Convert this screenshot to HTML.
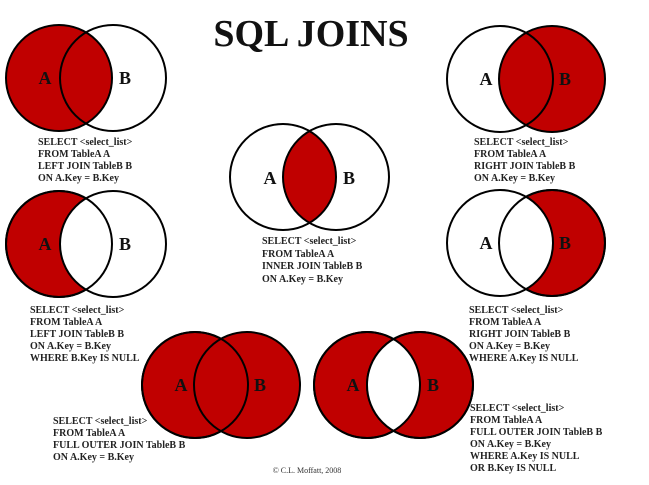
<!DOCTYPE html>
<html><head><meta charset="utf-8"><style>
html,body{margin:0;padding:0;background:#fff;}
svg{display:block;}
.t{font-family:"Liberation Serif",serif;font-weight:bold;font-size:10px;fill:#222;}
.l{font-family:"Liberation Serif",serif;font-weight:bold;font-size:18px;fill:#111;}
</style></head><body>
<svg width="649" height="485" viewBox="0 0 649 485" xmlns="http://www.w3.org/2000/svg">
<defs>
<clipPath id="c1"><circle cx="59" cy="78" r="53"/></clipPath>
<clipPath id="c2"><circle cx="283" cy="177" r="53"/></clipPath>
<clipPath id="c3"><circle cx="367" cy="385" r="53"/></clipPath>
</defs>
<rect width="649" height="485" fill="#fff"/>
<text x="311" y="46" text-anchor="middle" style="font-family:'Liberation Serif',serif;font-weight:bold;font-size:38px;fill:#111">SQL JOINS</text>

<g stroke="#000" stroke-width="2">
<!-- top-left: LEFT JOIN -->
<circle cx="59" cy="78" r="53" fill="#c00000"/>
<circle cx="113" cy="78" r="53" fill="none"/>
<!-- top-right: RIGHT JOIN -->
<circle cx="552" cy="79" r="53" fill="#c00000"/>
<circle cx="500" cy="79" r="53" fill="none"/>
<!-- center: INNER -->
<circle cx="336" cy="177" r="53" fill="#c00000" stroke="none" clip-path="url(#c2)"/>
<circle cx="283" cy="177" r="53" fill="none"/>
<circle cx="336" cy="177" r="53" fill="none"/>
<!-- mid-left: left only -->
<circle cx="59" cy="244" r="53" fill="#c00000"/>
<circle cx="113" cy="244" r="53" fill="#fff"/>
<circle cx="59" cy="244" r="53" fill="none"/>
<!-- mid-right: right only -->
<circle cx="552" cy="243" r="53" fill="#c00000"/>
<circle cx="500" cy="243" r="53" fill="#fff"/>
<circle cx="552" cy="243" r="53" fill="none"/>
<!-- bottom-left: full outer -->
<circle cx="195" cy="385" r="53" fill="#c00000"/>
<circle cx="247" cy="385" r="53" fill="#c00000"/>
<circle cx="195" cy="385" r="53" fill="none"/>
<!-- bottom-right: xor -->
<circle cx="367" cy="385" r="53" fill="#c00000"/>
<circle cx="420" cy="385" r="53" fill="#c00000"/>
<circle cx="420" cy="385" r="53" fill="#fff" stroke="none" clip-path="url(#c3)"/>
<circle cx="367" cy="385" r="53" fill="none"/>
<circle cx="420" cy="385" r="53" fill="none"/>
</g>

<g class="l">
<text x="45" y="84" text-anchor="middle" class="l">A</text><text x="125" y="84" text-anchor="middle" class="l">B</text>
<text x="486" y="85" text-anchor="middle" class="l">A</text><text x="565" y="85" text-anchor="middle" class="l">B</text>
<text x="270" y="184" text-anchor="middle" class="l">A</text><text x="349" y="184" text-anchor="middle" class="l">B</text>
<text x="45" y="250" text-anchor="middle" class="l">A</text><text x="125" y="250" text-anchor="middle" class="l">B</text>
<text x="486" y="249" text-anchor="middle" class="l">A</text><text x="565" y="249" text-anchor="middle" class="l">B</text>
<text x="181" y="391" text-anchor="middle" class="l">A</text><text x="260" y="391" text-anchor="middle" class="l">B</text>
<text x="353" y="391" text-anchor="middle" class="l">A</text><text x="433" y="391" text-anchor="middle" class="l">B</text>
</g>

<text class="t" x="38" y="145">SELECT &lt;select_list&gt;</text>
<text class="t" x="38" y="157">FROM TableA A</text>
<text class="t" x="38" y="169">LEFT JOIN TableB B</text>
<text class="t" x="38" y="181">ON A.Key = B.Key</text>

<text class="t" x="474" y="145">SELECT &lt;select_list&gt;</text>
<text class="t" x="474" y="157">FROM TableA A</text>
<text class="t" x="474" y="169">RIGHT JOIN TableB B</text>
<text class="t" x="474" y="181">ON A.Key = B.Key</text>

<text class="t" x="262" y="244">SELECT &lt;select_list&gt;</text>
<text class="t" x="262" y="257">FROM TableA A</text>
<text class="t" x="262" y="269">INNER JOIN TableB B</text>
<text class="t" x="262" y="282">ON A.Key = B.Key</text>

<text class="t" x="30" y="313">SELECT &lt;select_list&gt;</text>
<text class="t" x="30" y="325">FROM TableA A</text>
<text class="t" x="30" y="337">LEFT JOIN TableB B</text>
<text class="t" x="30" y="349">ON A.Key = B.Key</text>
<text class="t" x="30" y="361">WHERE B.Key IS NULL</text>

<text class="t" x="469" y="313">SELECT &lt;select_list&gt;</text>
<text class="t" x="469" y="325">FROM TableA A</text>
<text class="t" x="469" y="337">RIGHT JOIN TableB B</text>
<text class="t" x="469" y="349">ON A.Key = B.Key</text>
<text class="t" x="469" y="361">WHERE A.Key IS NULL</text>

<text class="t" x="53" y="424">SELECT &lt;select_list&gt;</text>
<text class="t" x="53" y="436">FROM TableA A</text>
<text class="t" x="53" y="448">FULL OUTER JOIN TableB B</text>
<text class="t" x="53" y="460">ON A.Key = B.Key</text>

<text class="t" x="470" y="411">SELECT &lt;select_list&gt;</text>
<text class="t" x="470" y="423">FROM TableA A</text>
<text class="t" x="470" y="435">FULL OUTER JOIN TableB B</text>
<text class="t" x="470" y="447">ON A.Key = B.Key</text>
<text class="t" x="470" y="459">WHERE A.Key IS NULL</text>
<text class="t" x="470" y="471">OR B.Key IS NULL</text>

<text x="307" y="473" text-anchor="middle" style="font-family:'Liberation Serif',serif;font-size:8px;fill:#333">© C.L. Moffatt, 2008</text>
</svg>
</body></html>
